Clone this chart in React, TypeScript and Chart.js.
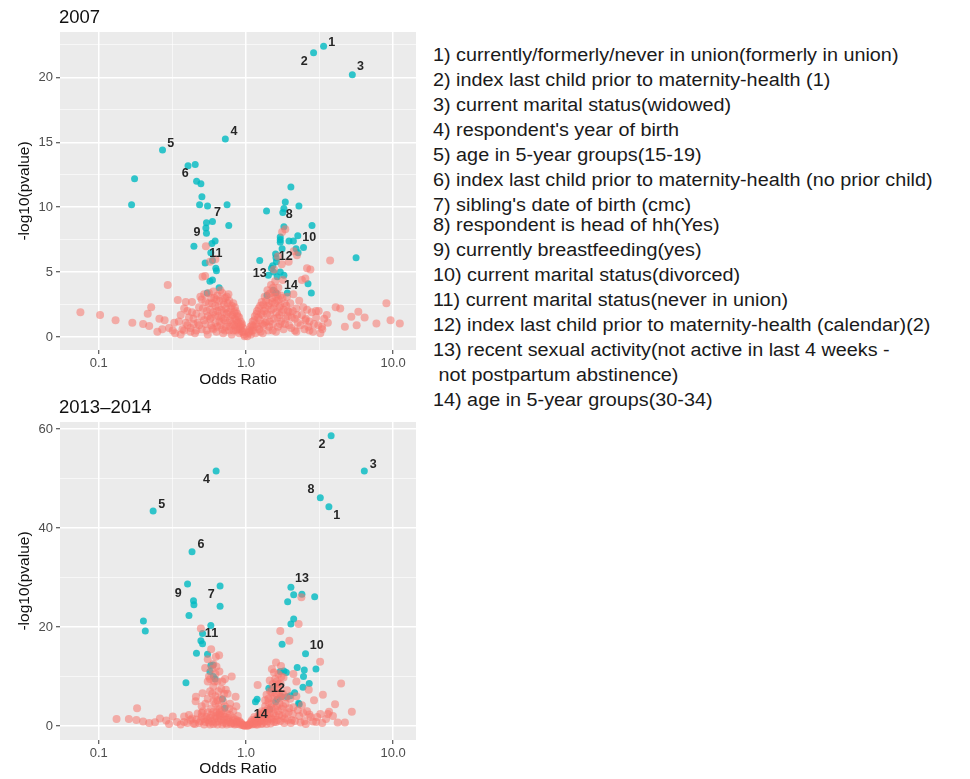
import React, { useEffect, useRef } from 'react';
import { Chart, registerables } from 'chart.js';

Chart.register(...registerables);
Chart.defaults.font.family = "'Liberation Sans', Arial, Helvetica, sans-serif";

// ---------- DATA ----------
const X_TICKS_MAJOR = [0.1, 1, 10];
const X_TICK_LABELS = ['0.1', '1.0', '10.0'];
const X_TICKS_MINOR = [0.316, 3.16];

const TOP_TITLE = '2007';
const BOT_TITLE = '2013–2014';

const TOP_Y_MAJOR = [0, 5, 10, 15, 20];
const TOP_Y_MINOR = [2.5, 7.5, 12.5, 17.5, 22.5];
const BOT_Y_MAJOR = [0, 20, 40, 60];
const BOT_Y_MINOR = [10, 30, 50];

const LABEL_IDS = ['1', '2', '3', '4', '5', '6', '7', '8', '9', '10', '11', '12', '13', '14'];
const TOP_LABEL_OR = [3.83, 2.49, 6.01, 0.83, 0.308, 0.387, 0.64, 1.97, 0.464, 2.69, 0.624, 1.86, 1.24, 2.02];
const TOP_LABEL_P = [22.7, 21.2, 20.8, 15.8, 14.9, 12.6, 9.6, 9.4, 8.05, 7.66, 6.4, 6.2, 4.86, 3.96];
const BOT_LABEL_OR = [4.14, 3.28, 7.32, 0.539, 0.268, 0.494, 0.58, 2.76, 0.347, 3.03, 0.583, 1.65, 2.4, 1.26];
const BOT_LABEL_P = [42.6, 56.8, 52.9, 49.8, 44.8, 36.6, 26.5, 47.7, 26.8, 16.2, 18.7, 7.5, 29.7, 2.4];

const LEGEND_ITEMS = [
  'currently/formerly/never in union(formerly in union)',
  'index last child prior to maternity-health (1)',
  'current marital status(widowed)',
  "respondent's year of birth",
  'age in 5-year groups(15-19)',
  'index last child prior to maternity-health (no prior child)',
  "sibling's date of birth (cmc)",
  'respondent is head of hh(Yes)',
  'currently breastfeeding(yes)',
  'current marital status(divorced)',
  'current marital status(never in union)',
  'index last child prior to maternity-health (calendar)(2)',
  'recent sexual activity(not active in last 4 weeks -\n not postpartum abstinence)',
  'age in 5-year groups(30-34)',
];

// significant (teal) points, 2007: [odds ratio, -log10 p]
const TEAL_2007: [number, number][] = [
  [3.37, 22.4], [2.88, 21.9], [5.28, 20.2], [0.724, 15.25], [0.271, 14.4], [0.175, 12.2], [0.167, 10.2],
  [0.404, 13.2], [0.452, 13.3], [0.462, 12.0], [0.494, 11.8], [0.502, 10.8], [0.484, 10.2], [0.548, 10.1],
  [0.744, 10.2], [0.592, 8.9], [0.539, 8.8], [0.534, 8.4], [0.764, 8.6], [0.539, 8.0], [0.617, 7.4],
  [0.587, 7.2], [0.443, 7.0], [0.577, 6.5], [0.592, 5.9], [0.528, 5.7], [0.624, 5.3], [0.63, 5.1],
  [0.592, 4.4], [0.569, 4.3], [0.657, 3.8], [0.545, 3.4],
  [2.02, 11.55], [1.85, 10.4], [2.29, 10.1], [1.38, 9.7], [1.81, 9.9], [1.78, 9.6], [2.81, 8.6],
  [1.81, 8.5], [1.71, 7.7], [1.71, 7.5], [1.71, 7.3], [1.96, 7.4], [2.1, 7.4], [2.25, 7.8], [2.46, 6.9],
  [2.19, 6.8], [2.26, 6.5], [1.76, 6.8], [1.59, 6.4], [1.6, 6.1], [1.61, 5.8], [1.24, 5.9], [1.52, 5.5],
  [1.49, 5.3], [1.54, 5.0], [1.71, 5.0], [1.81, 4.75], [1.42, 4.75], [1.63, 4.65], [5.6, 6.1],
  [2.64, 4.1], [2.78, 3.4], [1.91, 3.4], [1.39, 3.2], [1.6, 3.4], [1.53, 3.6],
];

// non-significant (red) points, 2007
const RED_2007: [number, number][] = [
  [0.075, 1.9], [0.102, 1.7], [0.13, 1.3], [0.169, 1.1], [0.2, 1.0], [0.22, 0.85], [0.227, 2.3], [0.215, 1.8],
  [0.258, 1.4], [0.294, 4.0], [0.344, 2.85], [0.39, 2.7], [0.326, 1.1], [0.3, 0.7], [0.318, 0.5], [0.36, 1.7],
  [0.4, 2.0], [0.43, 2.7], [0.534, 7.0], [0.528, 4.7], [0.507, 4.65], [0.57, 5.8], [0.62, 6.0],
  [3.73, 5.9], [2.6, 5.3], [2.74, 5.2], [2.53, 4.5], [9.0, 2.6], [9.6, 1.3], [11.1, 1.05], [7.7, 1.05],
  [5.65, 0.9], [4.7, 0.8], [5.8, 1.95], [5.2, 1.57], [4.07, 2.3], [4.37, 2.2], [3.54, 1.7], [2.99, 2.0],
  [3.12, 2.0], [3.28, 0.8], [2.53, 1.3], [2.11, 6.6], [2.22, 6.3], [1.76, 8.1], [1.95, 5.8], [6.4, 1.5], [2.4, 4.4],
  [0.45, 0.3], [0.47, 1.1], [0.48, 2.3], [0.5, 0.6], [0.5, 1.6], [0.5, 2.9], [0.52, 3.3], [0.53, 1.0],
  [0.54, 2.0], [0.55, 0.2], [0.56, 2.6], [0.57, 1.4], [0.58, 3.0], [0.59, 0.7], [0.6, 1.9], [0.6, 3.5],
  [0.62, 1.1], [0.62, 2.4], [0.63, 0.4], [0.64, 3.2], [0.65, 1.6], [0.66, 2.8], [0.67, 0.9], [0.68, 2.1],
  [0.69, 3.4], [0.7, 0.3], [0.7, 1.4], [0.71, 2.5], [0.72, 3.0], [0.73, 0.8], [0.74, 1.8], [0.75, 2.6],
  [0.76, 3.3], [0.77, 0.5], [0.78, 1.3], [0.79, 2.2], [0.8, 0.2], [0.81, 1.7], [0.82, 2.6], [0.83, 0.9],
  [0.84, 1.4], [0.85, 2.0], [0.86, 0.5], [0.87, 1.1], [0.88, 1.6], [0.9, 0.3], [0.91, 0.8], [0.92, 1.2],
  [0.94, 0.4], [0.95, 0.7], [0.97, 0.2], [0.98, 0.05],
  [0.46, 1.8], [0.48, 0.9], [0.49, 3.1], [0.51, 2.2], [0.52, 1.3], [0.53, 2.7], [0.54, 0.5], [0.55, 1.6],
  [0.56, 3.4], [0.57, 2.1], [0.58, 0.9], [0.59, 2.6], [0.6, 0.6], [0.61, 3.0], [0.62, 1.7], [0.63, 2.9],
  [0.64, 0.8], [0.65, 2.3], [0.66, 1.2], [0.67, 3.6], [0.68, 1.5], [0.69, 0.6], [0.7, 2.8], [0.71, 1.9],
  [0.72, 0.5], [0.73, 2.2], [0.74, 3.1], [0.75, 1.1], [0.76, 1.9], [0.77, 2.8], [0.78, 0.8], [0.79, 1.6],
  [0.8, 2.4], [0.81, 1.0], [0.82, 0.5], [0.83, 1.9], [0.84, 2.3], [0.85, 0.8], [0.86, 1.3], [0.87, 1.8],
  [0.88, 0.6], [0.89, 1.1], [0.9, 1.5], [0.92, 0.6], [0.93, 0.9], [0.94, 1.0], [0.96, 0.4], [0.58, 1.5],
  [0.64, 2.0], [0.72, 1.3],
  [0.33, 0.3], [0.35, 1.2], [0.37, 0.6], [0.38, 2.2], [0.4, 0.9], [0.41, 1.5], [0.42, 0.4], [0.43, 1.9],
  [0.44, 1.0], [0.46, 0.5], [0.27, 0.6], [0.28, 1.3], [0.25, 0.4], [0.36, 0.2], [0.39, 1.1], [0.42, 0.7],
  [0.44, 1.4], [0.38, 0.5],
  [1.02, 0.05], [1.04, 0.3], [1.06, 0.6], [1.08, 0.2], [1.1, 0.9], [1.12, 0.5], [1.14, 1.3], [1.16, 0.3],
  [1.18, 1.8], [1.2, 0.8], [1.22, 2.2], [1.24, 1.3], [1.26, 0.4], [1.28, 2.7], [1.3, 1.7], [1.32, 0.9],
  [1.34, 3.1], [1.36, 2.2], [1.38, 1.2], [1.4, 3.6], [1.42, 0.5], [1.44, 2.6], [1.46, 1.7], [1.48, 4.0],
  [1.5, 3.0], [1.52, 1.0], [1.54, 2.2], [1.56, 3.5], [1.58, 4.3], [1.6, 0.4], [1.62, 2.8], [1.64, 1.5],
  [1.66, 3.8], [1.68, 2.3], [1.7, 1.0], [1.72, 3.2], [1.75, 1.9], [1.78, 4.4], [1.8, 0.6], [1.83, 2.6],
  [1.86, 1.4], [1.9, 3.1], [1.93, 2.0], [1.96, 0.9], [2.0, 2.6], [2.05, 1.5], [2.1, 3.3], [2.15, 0.5],
  [2.2, 2.2], [2.25, 1.1], [2.3, 2.8], [2.4, 1.7], [2.5, 0.6], [2.6, 2.1], [2.7, 1.2], [2.85, 0.4],
  [3.0, 1.5], [3.3, 0.6], [3.6, 1.1], [1.55, 5.2], [1.65, 6.2], [1.75, 5.6], [1.85, 8.3],
  [1.05, 0.4], [1.07, 0.8], [1.09, 0.5], [1.11, 1.2], [1.13, 0.8], [1.15, 1.6], [1.17, 1.0], [1.19, 2.0],
  [1.21, 1.5], [1.23, 0.6], [1.25, 2.4], [1.27, 1.8], [1.29, 1.0], [1.31, 2.5], [1.33, 2.0], [1.35, 1.1],
  [1.37, 2.8], [1.39, 1.8], [1.41, 2.4], [1.43, 3.3], [1.45, 1.2], [1.47, 3.4], [1.49, 2.1], [1.51, 2.7],
  [1.53, 3.8], [1.55, 1.4], [1.57, 2.6], [1.59, 3.1], [1.61, 1.9], [1.63, 3.3], [1.65, 0.8], [1.67, 2.9],
  [1.69, 1.7], [1.71, 2.4], [1.74, 1.2], [1.77, 3.0], [1.8, 2.1], [1.84, 1.0], [1.88, 2.4], [1.92, 1.6],
  [1.98, 1.9], [2.03, 0.7], [2.08, 2.0], [2.15, 1.4], [2.22, 1.7], [2.35, 0.9], [2.45, 2.3], [2.55, 1.4],
  [2.65, 0.8], [2.8, 1.9], [1.44, 0.8], [1.52, 0.5], [1.3, 0.3], [3.1, 0.9], [3.4, 1.4], [2.9, 1.0],
  [3.2, 0.3], [2.2, 0.4], [2.7, 0.5],
];

// significant (teal) points, 2013-2014
const TEAL_2014: [number, number][] = [
  [3.79, 58.6], [6.37, 51.5], [0.627, 51.5], [3.2, 46.1], [3.66, 44.3], [0.234, 43.4], [0.43, 35.2],
  [0.401, 28.7], [0.667, 28.3], [0.44, 25.3], [0.443, 24.5], [0.667, 24.2], [0.41, 22.3], [0.201, 21.2],
  [0.207, 19.2], [0.577, 20.3], [0.507, 18.7], [0.494, 17.2], [0.507, 16.6], [0.461, 14.7], [0.548, 14.5],
  [0.577, 12.2], [0.598, 12.3], [0.569, 11.0], [0.617, 9.5], [0.391, 8.75], [0.692, 5.45], [0.718, 3.6], [0.6, 10.0],
  [2.02, 28.0], [2.11, 26.5], [2.4, 26.6], [2.93, 26.1], [1.92, 25.1], [2.11, 21.6], [2.02, 20.6],
  [1.76, 16.5], [2.54, 14.6], [2.99, 11.5], [2.23, 11.8], [2.49, 11.3], [2.46, 10.0], [1.71, 11.0],
  [1.81, 11.1], [1.88, 10.8], [2.69, 8.6], [2.44, 7.8], [2.14, 6.7], [2.0, 6.1], [1.9, 5.9], [1.74, 5.9],
  [1.63, 5.4], [2.28, 4.6], [2.3, 4.4], [1.43, 7.6], [1.49, 7.4], [1.19, 5.4], [1.16, 4.9], [1.45, 3.4], [1.59, 4.9],
];

// non-significant (red) points, 2013-2014
const RED_2014: [number, number][] = [
  [0.182, 3.6], [0.132, 1.4], [0.16, 1.4], [0.18, 1.2], [0.241, 0.75], [0.287, 1.1], [0.318, 1.9], [0.38, 1.9],
  [0.42, 1.2], [0.457, 5.9], [0.455, 5.0], [0.494, 19.7], [0.528, 11.7], [0.624, 14.0], [0.657, 14.3],
  [0.8, 10.0], [0.73, 7.3], [0.507, 6.6], [0.55, 9.0], [0.85, 5.9], [0.86, 4.0], [0.2, 0.9], [0.22, 0.6], [0.26, 1.5],
  [2.38, 26.0], [2.28, 20.6], [1.71, 19.2], [1.97, 17.2], [3.19, 13.0], [1.73, 12.1], [4.43, 8.6], [3.33, 6.3],
  [2.67, 7.3], [4.03, 4.4], [5.24, 2.9], [4.2, 0.7], [4.7, 0.7], [3.67, 2.9], [1.2, 8.3], [2.2, 9.0], [2.1, 10.5],
  [0.55, 13.5], [0.58, 15.5], [0.6, 12.5], [0.62, 10.5], [0.64, 9.0], [0.66, 11.0], [0.6, 8.0], [0.57, 7.0],
  [0.62, 6.0], [0.68, 7.5], [0.7, 5.0], [0.72, 9.5], [0.75, 6.5], [0.78, 4.5], [0.65, 4.0], [0.55, 5.5],
  [0.5, 4.0], [0.58, 3.5], [0.68, 3.0], [0.74, 2.5], [0.82, 3.0], [0.88, 2.0], [0.9, 1.0], [0.93, 0.5],
  [0.96, 0.2], [0.98, 0.05],
  [0.56, 10.0], [0.59, 11.5], [0.61, 9.0], [0.63, 12.0], [0.65, 7.0], [0.67, 5.5], [0.69, 9.0], [0.71, 6.5],
  [0.6, 5.0], [0.62, 4.5], [0.66, 2.5], [0.72, 4.0], [0.53, 4.5], [0.57, 9.5], [0.59, 6.5], [0.64, 5.2],
  [0.3, 0.4], [0.34, 0.8], [0.36, 0.3], [0.4, 0.6], [0.43, 1.5], [0.45, 0.4], [0.47, 2.5], [0.49, 1.0],
  [0.51, 3.0], [0.52, 0.3], [0.54, 1.8], [0.56, 0.7], [0.58, 2.2], [0.6, 0.4], [0.61, 1.4], [0.63, 2.8],
  [0.65, 0.9], [0.67, 1.9], [0.69, 0.3], [0.71, 1.3], [0.73, 0.6], [0.76, 1.6], [0.79, 0.4], [0.81, 1.1],
  [0.84, 0.3], [0.86, 0.8], [0.5, 1.9], [0.55, 2.8], [0.62, 2.0], [0.7, 2.4], [0.77, 3.5], [0.66, 3.4],
  [0.38, 0.8], [0.41, 2.2], [0.44, 0.5], [0.46, 1.3], [0.48, 0.6], [0.5, 2.6], [0.52, 1.4], [0.53, 0.8],
  [0.55, 1.2], [0.57, 0.3], [0.57, 1.6], [0.59, 0.9], [0.6, 2.9], [0.62, 0.7], [0.64, 1.6], [0.64, 0.3],
  [0.66, 2.2], [0.68, 1.2], [0.7, 0.7], [0.72, 1.8], [0.74, 0.3], [0.75, 1.2], [0.77, 0.8], [0.78, 2.2],
  [0.8, 0.6], [0.82, 1.5], [0.83, 0.5], [0.85, 1.3], [0.87, 0.4], [0.88, 0.9], [0.91, 0.3], [0.92, 0.7],
  [0.94, 0.2], [0.97, 0.1],
  [1.02, 0.05], [1.04, 0.2], [1.07, 0.5], [1.1, 0.3], [1.12, 1.0], [1.15, 0.6], [1.18, 1.5], [1.2, 0.3],
  [1.22, 2.2], [1.25, 1.0], [1.28, 3.0], [1.3, 0.5], [1.32, 1.8], [1.35, 4.0], [1.37, 2.5], [1.4, 1.0],
  [1.42, 5.5], [1.44, 3.2], [1.46, 7.0], [1.48, 1.6], [1.5, 4.5], [1.52, 8.5], [1.54, 2.5], [1.56, 6.0],
  [1.58, 9.5], [1.6, 0.8], [1.62, 4.0], [1.64, 7.5], [1.66, 10.5], [1.68, 2.2], [1.7, 5.5], [1.72, 8.5],
  [1.75, 3.5], [1.78, 6.5], [1.8, 9.8], [1.83, 1.5], [1.86, 4.5], [1.9, 7.2], [1.95, 2.8], [2.0, 5.5],
  [2.05, 1.2], [2.1, 3.8], [2.2, 6.0], [2.3, 2.0], [2.4, 4.2], [2.5, 1.0], [2.6, 3.0], [2.75, 1.8],
  [2.9, 5.2], [3.0, 0.8], [3.2, 2.4], [3.5, 1.4], [3.9, 2.0], [1.45, 9.2], [1.55, 10.8], [1.5, 11.5],
  [1.6, 12.8], [1.38, 6.3],
  [1.03, 0.1], [1.06, 0.3], [1.08, 0.8], [1.1, 1.2], [1.13, 0.4], [1.14, 1.8], [1.17, 0.3], [1.19, 1.0],
  [1.21, 0.7], [1.23, 1.6], [1.26, 2.5], [1.27, 0.4], [1.29, 1.3], [1.31, 2.4], [1.33, 0.9], [1.34, 3.0],
  [1.36, 1.6], [1.38, 0.4], [1.39, 2.2], [1.41, 3.5], [1.43, 1.4], [1.45, 2.5], [1.47, 0.5], [1.49, 3.8],
  [1.51, 1.3], [1.53, 5.5], [1.55, 0.8], [1.57, 3.5], [1.59, 2.0], [1.61, 6.5], [1.63, 1.2], [1.65, 3.0],
  [1.67, 8.5], [1.69, 4.5], [1.71, 1.0], [1.73, 6.0], [1.76, 2.0], [1.79, 4.0], [1.82, 0.6], [1.85, 2.5],
  [1.88, 5.8], [1.92, 1.2], [1.97, 3.6], [2.02, 0.6], [2.08, 2.4], [2.15, 1.0], [2.25, 3.2], [2.35, 0.7],
  [2.45, 2.6], [2.55, 0.4], [2.7, 2.3], [2.85, 0.9], [3.05, 1.8], [3.3, 0.6], [3.6, 2.4], [1.5, 6.8],
  [1.56, 7.8], [1.62, 9.0], [1.68, 6.8], [1.74, 10.0], [1.42, 4.8], [1.35, 5.2],
];

// ---------- STYLE ----------
const RED = 'rgba(248,118,109,0.55)';
const TEAL = 'rgba(0,186,194,0.8)';
const PANEL = '#EBEBEB';
const FONT = "'Liberation Sans', Arial, Helvetica, sans-serif";

const isIn = (v: number, arr: number[]) => arr.some((a) => Math.abs(a - v) < 1e-6 * Math.max(1, Math.abs(a)));

function makeChart(
  canvas: HTMLCanvasElement,
  red: [number, number][],
  teal: [number, number][],
  labelOR: number[],
  labelP: number[],
  title: string,
  yMin: number,
  yMax: number,
  yMajor: number[],
  yMinor: number[],
  xAxisHeight: number,
) {
  const bgPlugin = {
    id: 'panelBg',
    beforeDraw(chart: any) {
      const { ctx, chartArea: a } = chart;
      ctx.save();
      ctx.fillStyle = PANEL;
      ctx.fillRect(a.left, a.top, a.right - a.left, a.bottom - a.top);
      ctx.restore();
    },
  };
  const textPlugin = {
    id: 'textLabels',
    afterDatasetsDraw(chart: any) {
      const { ctx, chartArea: a, scales } = chart;
      ctx.save();
      ctx.font = `bold 12.5px ${FONT}`;
      ctx.fillStyle = '#262626';
      ctx.textAlign = 'center';
      ctx.textBaseline = 'middle';
      LABEL_IDS.forEach((id, i) => {
        ctx.fillText(id, scales.x.getPixelForValue(labelOR[i]), scales.y.getPixelForValue(labelP[i]));
      });
      ctx.font = `18.5px ${FONT}`;
      ctx.fillStyle = '#111';
      ctx.textAlign = 'left';
      ctx.fillText(title, a.left - 1, 18);
      ctx.restore();
    },
  };

  return new Chart(canvas, {
    type: 'scatter',
    data: {
      datasets: [
        {
          data: red.map(([x, y]) => ({ x, y })),
          backgroundColor: RED,
          borderWidth: 0,
          pointRadius: 4,
        },
        {
          data: teal.map(([x, y]) => ({ x, y })),
          backgroundColor: TEAL,
          borderWidth: 0,
          pointRadius: 3.5,
        },
      ],
    },
    options: {
      animation: false,
      responsive: false,
      maintainAspectRatio: false,
      layout: { padding: { top: 32, right: 2, left: 0, bottom: 0 } },
      plugins: { legend: { display: false }, tooltip: { enabled: false }, title: { display: false } },
      scales: {
        x: {
          type: 'logarithmic',
          min: 0.0545,
          max: 14.3,
          afterBuildTicks: (s: any) => {
            s.ticks = [...X_TICKS_MAJOR, ...X_TICKS_MINOR].sort((a, b) => a - b).map((v) => ({ value: v }));
          },
          afterFit: (s: any) => {
            s.height = xAxisHeight;
          },
          ticks: {
            autoSkip: false,
            maxRotation: 0,
            color: '#4D4D4D',
            font: { size: 13 },
            padding: 2,
            callback: (v: any) => {
              const idx = X_TICKS_MAJOR.findIndex((m) => Math.abs(m - Number(v)) < 1e-6);
              return idx >= 0 ? X_TICK_LABELS[idx] : '';
            },
          },
          grid: {
            color: '#FFFFFF',
            lineWidth: (c: any) => (c.tick && isIn(c.tick.value, X_TICKS_MAJOR) ? 1.5 : 0.6),
            tickLength: 4,
            tickColor: (c: any) => (c.tick && isIn(c.tick.value, X_TICKS_MAJOR) ? '#333333' : 'rgba(0,0,0,0)'),
            tickWidth: 1,
          },
          border: { display: false },
          title: { display: true, text: 'Odds Ratio', color: '#111', font: { size: 15.5 }, padding: { top: 0, bottom: 1 } },
        },
        y: {
          type: 'linear',
          min: yMin,
          max: yMax,
          afterBuildTicks: (s: any) => {
            s.ticks = [...yMajor, ...yMinor].sort((a, b) => a - b).map((v) => ({ value: v }));
          },
          afterFit: (s: any) => {
            s.width = 60;
          },
          ticks: {
            autoSkip: false,
            color: '#4D4D4D',
            font: { size: 13 },
            padding: 3,
            callback: (v: any) => (isIn(Number(v), yMajor) ? String(v) : ''),
          },
          grid: {
            color: '#FFFFFF',
            lineWidth: (c: any) => (c.tick && isIn(c.tick.value, yMajor) ? 1.5 : 0.6),
            tickLength: 4,
            tickColor: (c: any) => (c.tick && isIn(c.tick.value, yMajor) ? '#333333' : 'rgba(0,0,0,0)'),
            tickWidth: 1,
          },
          border: { display: false },
          title: { display: true, text: '-log10(pvalue)', color: '#111', font: { size: 15.5 }, padding: { top: 15, bottom: 0 } },
        },
      },
    } as any,
    plugins: [bgPlugin, textPlugin],
  });
}

export default function App() {
  const topRef = useRef<HTMLCanvasElement | null>(null);
  const botRef = useRef<HTMLCanvasElement | null>(null);

  useEffect(() => {
    const c1 = makeChart(topRef.current!, RED_2007, TEAL_2007, TOP_LABEL_OR, TOP_LABEL_P, TOP_TITLE, -1.0, 23.5, TOP_Y_MAJOR, TOP_Y_MINOR, 40);
    const c2 = makeChart(botRef.current!, RED_2014, TEAL_2014, BOT_LABEL_OR, BOT_LABEL_P, BOT_TITLE, -2.83, 61.4, BOT_Y_MAJOR, BOT_Y_MINOR, 39);
    return () => {
      c1.destroy();
      c2.destroy();
    };
  }, []);

  return (
    <div style={{ position: 'absolute', left: 0, top: 0, width: 970, height: 779, background: '#fff', overflow: 'hidden' }}>
      <canvas ref={topRef} width={420} height={390} style={{ position: 'absolute', left: 0, top: 0 }} />
      <canvas ref={botRef} width={420} height={389} style={{ position: 'absolute', left: 0, top: 390 }} />
      <div
        style={{
          position: 'absolute',
          left: 433,
          top: 42.5,
          fontFamily: FONT,
          fontSize: 18,
          lineHeight: '25px',
          color: '#1a1a1a',
          transform: 'scaleX(1.1)',
          transformOrigin: '0 0',
          whiteSpace: 'pre',
        }}
      >
        {LEGEND_ITEMS.map((t, i) => (
          <div key={i} style={{ marginTop: i === 7 ? -5 : 0 }}>{`${i + 1}) ${t}`}</div>
        ))}
      </div>
    </div>
  );
}
